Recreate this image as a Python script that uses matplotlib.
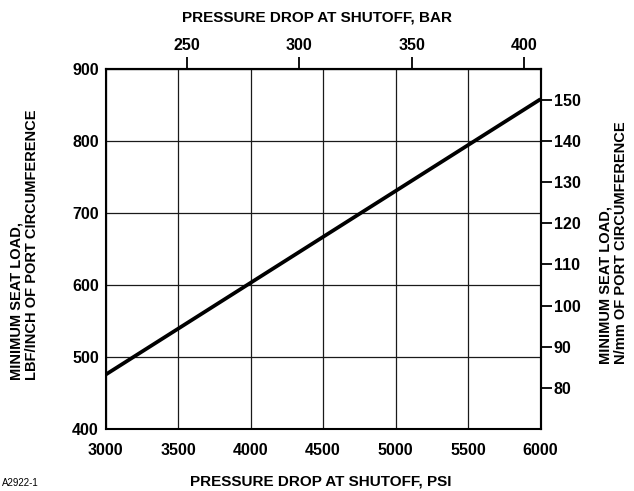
import numpy as np
import matplotlib
matplotlib.use('Agg')
import matplotlib.pyplot as plt

# chart values
psi = [3000, 6000]
seat_load = [475, 858]          # lbf/inch of port circumference

psi_ticks = [3000, 3500, 4000, 4500, 5000, 5500, 6000]
load_ticks = [400, 500, 600, 700, 800, 900]
bar_ticks = [250, 300, 350, 400]
nmm_ticks = [80, 90, 100, 110, 120, 130, 140, 150]

plt.rcParams['font.family'] = ['Liberation Sans', 'DejaVu Sans']
plt.rcParams['font.weight'] = 'bold'

W, H = 634, 491
fig = plt.figure(figsize=(W / 100, H / 100), dpi=100)
ax = fig.add_axes([105.7 / W, 1 - 428.5 / H, 434.8 / W, 359.5 / H])

ax.plot(psi, seat_load, color='black', lw=2.7, solid_capstyle='butt', zorder=3)

ax.set_xlim(3000, 6000)
ax.set_ylim(400, 900)
ax.set_xticks(psi_ticks)
ax.set_yticks(load_ticks)
ax.grid(True, color='#1a1a1a', lw=0.9)
for s in ax.spines.values():
    s.set_linewidth(1.5)
ax.tick_params(axis='x', length=0, pad=10.5, labelsize=11.5)
ax.tick_params(axis='y', length=0, pad=5, labelsize=11.5)


# top axis in bar (scale as drawn on the original chart)
def bar2psi(b):
    return 15.52 * np.asarray(b) - 321.0


def psi2bar(p):
    return (np.asarray(p) + 321.0) / 15.52


top = ax.secondary_xaxis('top', functions=(psi2bar, bar2psi))
top.set_xticks(bar_ticks)
top.tick_params(length=8.6, width=1.3, pad=3.2, labelsize=11.5)
top.spines['top'].set_linewidth(1.5)


# right axis in N/mm
def nmm2lbf(n):
    return np.asarray(n) * 5.71


def lbf2nmm(l):
    return np.asarray(l) / 5.71


right = ax.secondary_yaxis('right', functions=(lbf2nmm, nmm2lbf))
right.set_yticks(nmm_ticks)
right.tick_params(length=8, width=1.3, pad=1.5, labelsize=11.5)
right.spines['right'].set_linewidth(1.5)

fig.text(317 / W, 1 - 18 / H, 'PRESSURE DROP AT SHUTOFF, BAR', ha='center', va='center',
         fontsize=11, fontweight='bold')
fig.text(321 / W, 1 - 482 / H, 'PRESSURE DROP AT SHUTOFF, PSI', ha='center', va='center',
         fontsize=11, fontweight='bold')
fig.text(24 / W, 1 - 245 / H, 'MINIMUM SEAT LOAD,\nLBF/INCH OF PORT CIRCUMFERENCE',
         rotation=90, ha='center', va='center', multialignment='left',
         fontsize=10.5, fontweight='bold', linespacing=1.1)
fig.text(613 / W, 1 - 243 / H, 'MINIMUM SEAT LOAD,\nN/mm OF PORT CIRCUMFERENCE',
         rotation=90, ha='center', va='center', multialignment='left',
         fontsize=10.5, fontweight='bold', linespacing=1.1)
fig.text(2 / W, 1 - 483 / H, 'A2922-1', ha='left', va='center',
         fontsize=7, fontweight='normal')

fig.savefig('out.png', dpi=100)
